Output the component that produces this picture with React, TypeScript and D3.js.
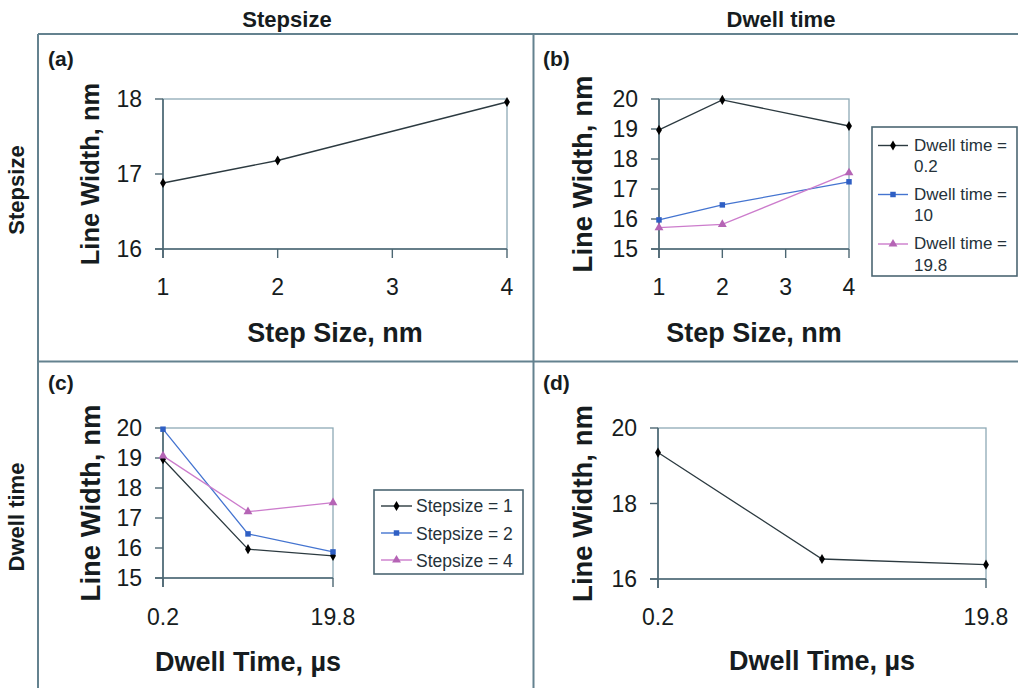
import React from "react";
import * as d3 from "d3";

// ---- data ----
const stepSizes = [1, 2, 4];
const stepTicks = [1, 2, 3, 4];
const dwellTimes = [0.2, 10, 19.8];
const dwellTicks = [0.2, 19.8];

const panelA = [16.88, 17.18, 17.96];
const panelBDwell02 = [18.97, 19.97, 19.1];
const panelBDwell10 = [15.97, 16.47, 17.24];
const panelBDwell198 = [15.71, 15.82, 17.54];
const panelCStep1 = [18.96, 15.96, 15.74];
const panelCStep2 = [19.96, 16.47, 15.87];
const panelCStep4 = [19.07, 17.21, 17.51];
const panelD = [19.35, 16.53, 16.38];

const ticksA = [16, 17, 18];
const ticks15to20 = [15, 16, 17, 18, 19, 20];
const ticksD = [16, 18, 20];

const legendB = [["Dwell time =", "0.2"], ["Dwell time =", "10"], ["Dwell time =", "19.8"]];
const legendC = ["Stepsize = 1", "Stepsize = 2", "Stepsize = 4"];

const FONT = "'Liberation Sans', Arial, sans-serif";
const AXIS = "#4c6672";
const FRAME = "#8eaab6";
const GRID = "#64828f";
const TXT = "#161c20";

const styles = {
  black: { line: "#2c3a40", fill: "#000", type: d3.symbolDiamond, size: 30 },
  blue: { line: "#4474d0", fill: "#2f5fc4", type: d3.symbolSquare, size: 30 },
  pink: { line: "#cc7ccc", fill: "#b564b5", type: d3.symbolTriangle, size: 34 },
};

type Series = { values: number[]; style: keyof typeof styles };

function Marker({ x, y, s }: { x: number; y: number; s: keyof typeof styles }) {
  const st = styles[s];
  const d = d3.symbol().type(st.type).size(st.size)() as string;
  return <path d={d} transform={`translate(${x},${y})`} fill={st.fill} />;
}

function Panel(props: {
  x0: number; x1: number; y0: number; y1: number;
  xDomain: [number, number]; yDomain: [number, number];
  xTicks: number[]; xTickLabels: string[]; tickedX: number[];
  yTicks: number[]; xs: number[]; series: Series[];
  yTitle: string; xTitle: string; yTitleX: number; yTitleSize: number;
  xTitleY: number; xLabelY: number;
}) {
  const p = props;
  const x = d3.scaleLinear().domain(p.xDomain).range([p.x0, p.x1]);
  const y = d3.scaleLinear().domain(p.yDomain).range([p.y1, p.y0]);
  const line = d3.line<number>().x((_, i) => x(p.xs[i])).y((v) => y(v));
  const cx = (p.x0 + p.x1) / 2;
  const cy = (p.y0 + p.y1) / 2;
  return (
    <g>
      <rect x={p.x0} y={p.y0} width={p.x1 - p.x0} height={p.y1 - p.y0} fill="none" stroke={FRAME} strokeWidth={1.3} />
      <line x1={p.x0} x2={p.x0} y1={p.y0} y2={p.y1 + 9} stroke={AXIS} strokeWidth={1.6} />
      <line x1={p.x0 - 8} x2={p.x1} y1={p.y1} y2={p.y1} stroke={AXIS} strokeWidth={1.6} />
      {p.yTicks.map((t) => (
        <g key={"yt" + t}>
          <line x1={p.x0 - 8} x2={p.x0} y1={y(t)} y2={y(t)} stroke={AXIS} strokeWidth={1.4} />
          <text x={p.x0 - 21} y={y(t) + 8} textAnchor="end" fontSize={23} fill={TXT} fontFamily={FONT}>{t}</text>
        </g>
      ))}
      {p.tickedX.map((t) => (
        <line key={"xt" + t} x1={x(t)} x2={x(t)} y1={p.y1} y2={p.y1 + 9} stroke={AXIS} strokeWidth={1.4} />
      ))}
      {p.xTicks.map((t, i) => (
        <text key={"xl" + t} x={x(t)} y={p.xLabelY} textAnchor="middle" fontSize={23} fill={TXT} fontFamily={FONT}>{p.xTickLabels[i]}</text>
      ))}
      {p.series.map((s, si) => (
        <g key={"s" + si}>
          <path d={line(s.values) as string} fill="none" stroke={styles[s.style].line} strokeWidth={1.3} />
          {s.values.map((v, i) => <Marker key={i} x={x(p.xs[i])} y={y(v)} s={s.style} />)}
        </g>
      ))}
      <text transform={`translate(${p.yTitleX},${cy}) rotate(-90)`} textAnchor="middle" fontSize={p.yTitleSize} fontWeight="bold" fill={TXT} fontFamily={FONT}>{p.yTitle}</text>
      <text x={cx} y={p.xTitleY} textAnchor="middle" fontSize={27} fontWeight="bold" fill={TXT} fontFamily={FONT}>{p.xTitle}</text>
    </g>
  );
}

function LegendBox(props: { x0: number; y0: number; w: number; h: number; rows: { style: keyof typeof styles; lineY: number; lines: string[]; baseY: number[] }[]; sx0: number; sx1: number; tx: number; fs: number }) {
  const p = props;
  return (
    <g>
      <rect x={p.x0} y={p.y0} width={p.w} height={p.h} fill="#fff" stroke={AXIS} strokeWidth={1.6} />
      {p.rows.map((r, i) => (
        <g key={i}>
          <line x1={p.sx0} x2={p.sx1} y1={r.lineY} y2={r.lineY} stroke={styles[r.style].line} strokeWidth={1.4} />
          <Marker x={(p.sx0 + p.sx1) / 2} y={r.lineY} s={r.style} />
          {r.lines.map((t, j) => (
            <text key={j} x={p.tx} y={r.baseY[j]} fontSize={p.fs} fill="#25323a" fontFamily={FONT}>{t}</text>
          ))}
        </g>
      ))}
    </g>
  );
}

export default function App() {
  return (
    <svg width={1018} height={688} style={{ position: "absolute", left: 0, top: 0, background: "#fff" }}>
      <rect x={0} y={0} width={1018} height={688} fill="#fff" />
      {/* grid frame */}
      <line x1={38} x2={1018} y1={34} y2={34} stroke={GRID} strokeWidth={2} />
      <line x1={38} x2={38} y1={34} y2={688} stroke={GRID} strokeWidth={2} />
      <line x1={533.5} x2={533.5} y1={34} y2={688} stroke={GRID} strokeWidth={2} />
      <line x1={38} x2={1018} y1={361.5} y2={361.5} stroke={GRID} strokeWidth={2} />

      {/* headers */}
      <text x={287} y={27} textAnchor="middle" fontSize={22} fontWeight="bold" fill={TXT} fontFamily={FONT}>Stepsize</text>
      <text x={781} y={27} textAnchor="middle" fontSize={22} fontWeight="bold" fill={TXT} fontFamily={FONT}>Dwell time</text>
      <text transform="translate(24,190) rotate(-90)" textAnchor="middle" fontSize={22} fontWeight="bold" fill={TXT} fontFamily={FONT}>Stepsize</text>
      <text transform="translate(24,517) rotate(-90)" textAnchor="middle" fontSize={22} fontWeight="bold" fill={TXT} fontFamily={FONT}>Dwell time</text>

      {/* panel labels */}
      <text x={48} y={66} fontSize={21} fontWeight="bold" fill={TXT} fontFamily={FONT}>(a)</text>
      <text x={543} y={66} fontSize={21} fontWeight="bold" fill={TXT} fontFamily={FONT}>(b)</text>
      <text x={48} y={390} fontSize={21} fontWeight="bold" fill={TXT} fontFamily={FONT}>(c)</text>
      <text x={543} y={390} fontSize={21} fontWeight="bold" fill={TXT} fontFamily={FONT}>(d)</text>

      <Panel x0={163} x1={507} y0={99} y1={249} xDomain={[1, 4]} yDomain={[16, 18]}
        xTicks={stepTicks} xTickLabels={stepTicks.map(String)} tickedX={stepTicks}
        yTicks={ticksA} xs={stepSizes} series={[{ values: panelA, style: "black" }]}
        yTitle="Line Width, nm" xTitle="Step Size, nm" yTitleX={99} yTitleSize={25.5} xTitleY={342} xLabelY={295} />

      <Panel x0={659} x1={849} y0={99} y1={249} xDomain={[1, 4]} yDomain={[15, 20]}
        xTicks={stepTicks} xTickLabels={stepTicks.map(String)} tickedX={stepTicks}
        yTicks={ticks15to20} xs={stepSizes}
        series={[{ values: panelBDwell02, style: "black" }, { values: panelBDwell10, style: "blue" }, { values: panelBDwell198, style: "pink" }]}
        yTitle="Line Width, nm" xTitle="Step Size, nm" yTitleX={592} yTitleSize={27.5} xTitleY={342} xLabelY={295} />

      <Panel x0={163} x1={333} y0={428} y1={578} xDomain={[0.2, 19.8]} yDomain={[15, 20]}
        xTicks={dwellTicks} xTickLabels={dwellTicks.map(String)} tickedX={dwellTicks}
        yTicks={ticks15to20} xs={dwellTimes}
        series={[{ values: panelCStep1, style: "black" }, { values: panelCStep2, style: "blue" }, { values: panelCStep4, style: "pink" }]}
        yTitle="Line Width, nm" xTitle="Dwell Time, µs" yTitleX={100} yTitleSize={27.5} xTitleY={671} xLabelY={625} />

      <Panel x0={658} x1={986} y0={428} y1={579} xDomain={[0.2, 19.8]} yDomain={[16, 20]}
        xTicks={dwellTicks} xTickLabels={dwellTicks.map(String)} tickedX={dwellTicks}
        yTicks={ticksD} xs={dwellTimes} series={[{ values: panelD, style: "black" }]}
        yTitle="Line Width, nm" xTitle="Dwell Time, µs" yTitleX={592} yTitleSize={27.5} xTitleY={670} xLabelY={625} />

      <LegendBox x0={872} y0={127} w={145} h={149} sx0={878} sx1={908} tx={914} fs={17}
        rows={[
          { style: "black", lineY: 145.5, lines: legendB[0], baseY: [150.5, 171.5] },
          { style: "blue", lineY: 194.5, lines: legendB[1], baseY: [199.5, 221] },
          { style: "pink", lineY: 244, lines: legendB[2], baseY: [249, 270.5] },
        ]} />

      <LegendBox x0={374} y0={490} w={149} h={84} sx0={381} sx1={412} tx={416} fs={17.5}
        rows={[
          { style: "black", lineY: 506, lines: [legendC[0]], baseY: [512] },
          { style: "blue", lineY: 533, lines: [legendC[1]], baseY: [539.5] },
          { style: "pink", lineY: 560, lines: [legendC[2]], baseY: [566.5] },
        ]} />
    </svg>
  );
}
